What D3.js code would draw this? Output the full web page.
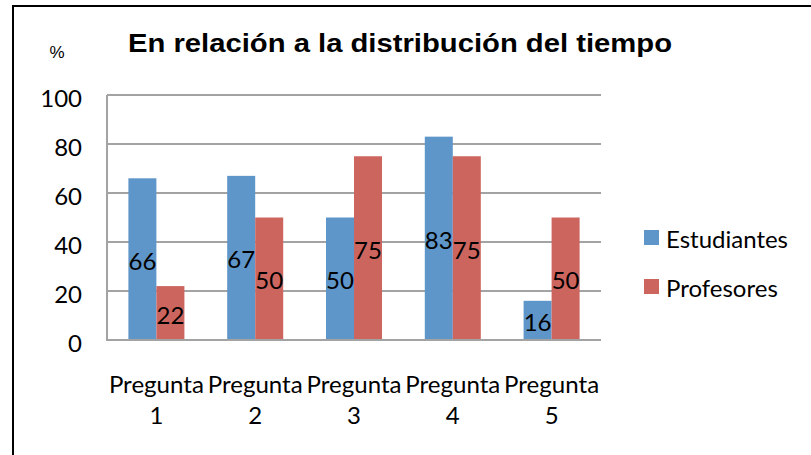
<!DOCTYPE html>
<html>
<head>
<meta charset="utf-8">
<script src="https://cdn.jsdelivr.net/npm/d3@7"></script>
<style>
  body { margin: 0; background: #fff; }
  svg { display: block; }
</style>
</head>
<body>
<svg id="chart"></svg>
<script>
// Data
const categories = ["Pregunta 1", "Pregunta 2", "Pregunta 3", "Pregunta 4", "Pregunta 5"];
const seriesNames = ["Estudiantes", "Profesores"];
const estudiantes = [66, 67, 50, 83, 16];
const profesores = [22, 50, 75, 75, 50];
const yTicks = [0, 20, 40, 60, 80, 100];
const colors = ["#5f96c9", "#cd655f"];

const W = 811, H = 455;
const plot = { left: 107, right: 601, top: 95, bottom: 340 };
const bodyFont = "Lato, 'Open Sans', sans-serif";

const svg = d3.select("#chart").attr("width", W).attr("height", H);

// outer frame (only top and left edges are visible)
svg.append("line").attr("x1", 13).attr("x2", W).attr("y1", 6).attr("y2", 6)
    .attr("stroke", "#000").attr("stroke-width", 2);
svg.append("line").attr("x1", 13).attr("x2", 13).attr("y1", 5).attr("y2", H)
    .attr("stroke", "#000").attr("stroke-width", 2);

// scales
const x0 = d3.scaleBand()
    .domain(categories)
    .range([plot.left, plot.right])
    .paddingInner(0.433)
    .paddingOuter(0.2165);

const x1 = d3.scaleBand()
    .domain(seriesNames)
    .range([0, x0.bandwidth()]);

const y = d3.scaleLinear()
    .domain([0, 100])
    .range([plot.bottom, plot.top]);

const color = d3.scaleOrdinal().domain(seriesNames).range(colors);

// gridlines
svg.append("g")
    .selectAll("line")
    .data(yTicks.filter(d => d > 0))
    .enter()
    .append("line")
    .attr("x1", plot.left)
    .attr("x2", plot.right)
    .attr("y1", d => y(d))
    .attr("y2", d => y(d))
    .attr("stroke", "#a3a3a3")
    .attr("stroke-width", 2);

// y tick labels
svg.append("g")
    .selectAll("text")
    .data(yTicks)
    .enter()
    .append("text")
    .attr("x", 82)
    .attr("y", d => y(d) + 2)
    .attr("dominant-baseline", "central")
    .attr("text-anchor", "end")
    .style("font-family", bodyFont)
    .style("font-size", "24px")
    .text(d => d);

// "%" unit label
svg.append("text")
    .attr("x", 57)
    .attr("y", 58)
    .attr("text-anchor", "middle")
    .style("font-family", "'Liberation Sans', Arial, sans-serif")
    .style("font-size", "17px")
    .text("%");

// title
svg.append("text")
    .attr("x", 128)
    .attr("y", 52)
    .attr("textLength", 544)
    .attr("lengthAdjust", "spacingAndGlyphs")
    .style("font-family", "'Liberation Sans', Arial, sans-serif")
    .style("font-weight", "bold")
    .style("font-size", "26px")
    .text("En relación a la distribución del tiempo");

// build rows for bars
const rows = categories.map((c, i) => ({
    category: c,
    values: [
        { series: seriesNames[0], value: estudiantes[i] },
        { series: seriesNames[1], value: profesores[i] }
    ]
}));

const groups = svg.append("g")
    .selectAll("g")
    .data(rows)
    .enter()
    .append("g")
    .attr("transform", d => `translate(${x0(d.category)},0)`);

groups.selectAll("rect")
    .data(d => d.values)
    .enter()
    .append("rect")
    .attr("x", d => x1(d.series))
    .attr("y", d => y(d.value))
    .attr("width", x1.bandwidth())
    .attr("height", d => y(0) - y(d.value))
    .attr("fill", d => color(d.series));

// value labels, centred in the bars
groups.selectAll("text")
    .data(d => d.values)
    .enter()
    .append("text")
    .attr("x", d => x1(d.series) + x1.bandwidth() / 2)
    .attr("y", d => (y(d.value) + y(0)) / 2 + 1)
    .attr("dominant-baseline", "central")
    .attr("text-anchor", "middle")
    .style("font-family", bodyFont)
    .style("font-size", "24px")
    .text(d => d.value);

// axis lines
svg.append("line")
    .attr("x1", plot.left).attr("x2", plot.left)
    .attr("y1", plot.top).attr("y2", plot.bottom)
    .attr("stroke", "#a3a3a3").attr("stroke-width", 2);
svg.append("line")
    .attr("x1", plot.left - 1).attr("x2", plot.right)
    .attr("y1", plot.bottom).attr("y2", plot.bottom)
    .attr("stroke", "#a3a3a3").attr("stroke-width", 2);

// category labels on two lines (the first word fills the whole band, as in the picture)
const xl = svg.append("g")
    .selectAll("g")
    .data(categories)
    .enter()
    .append("g")
    .style("font-family", bodyFont)
    .style("font-size", "24px");

xl.append("text")
    .attr("x", d => x0(d) + x0.bandwidth() / 2 - 47.5)
    .attr("y", 393)
    .attr("textLength", 95)
    .attr("lengthAdjust", "spacingAndGlyphs")
    .text(d => d.split(" ")[0]);

xl.append("text")
    .attr("x", d => x0(d) + x0.bandwidth() / 2)
    .attr("y", 424)
    .attr("text-anchor", "middle")
    .text(d => d.split(" ")[1]);

// legend
const legend = svg.append("g")
    .selectAll("g")
    .data(seriesNames)
    .enter()
    .append("g")
    .attr("transform", (d, i) => `translate(644,${230 + i * 49})`);

legend.append("rect")
    .attr("width", 15)
    .attr("height", 15)
    .attr("fill", d => color(d));

legend.append("text")
    .attr("x", 22)
    .attr("y", 18)
    .style("font-family", bodyFont)
    .style("font-size", "24px")
    .text(d => d);
</script>
</body>
</html>
